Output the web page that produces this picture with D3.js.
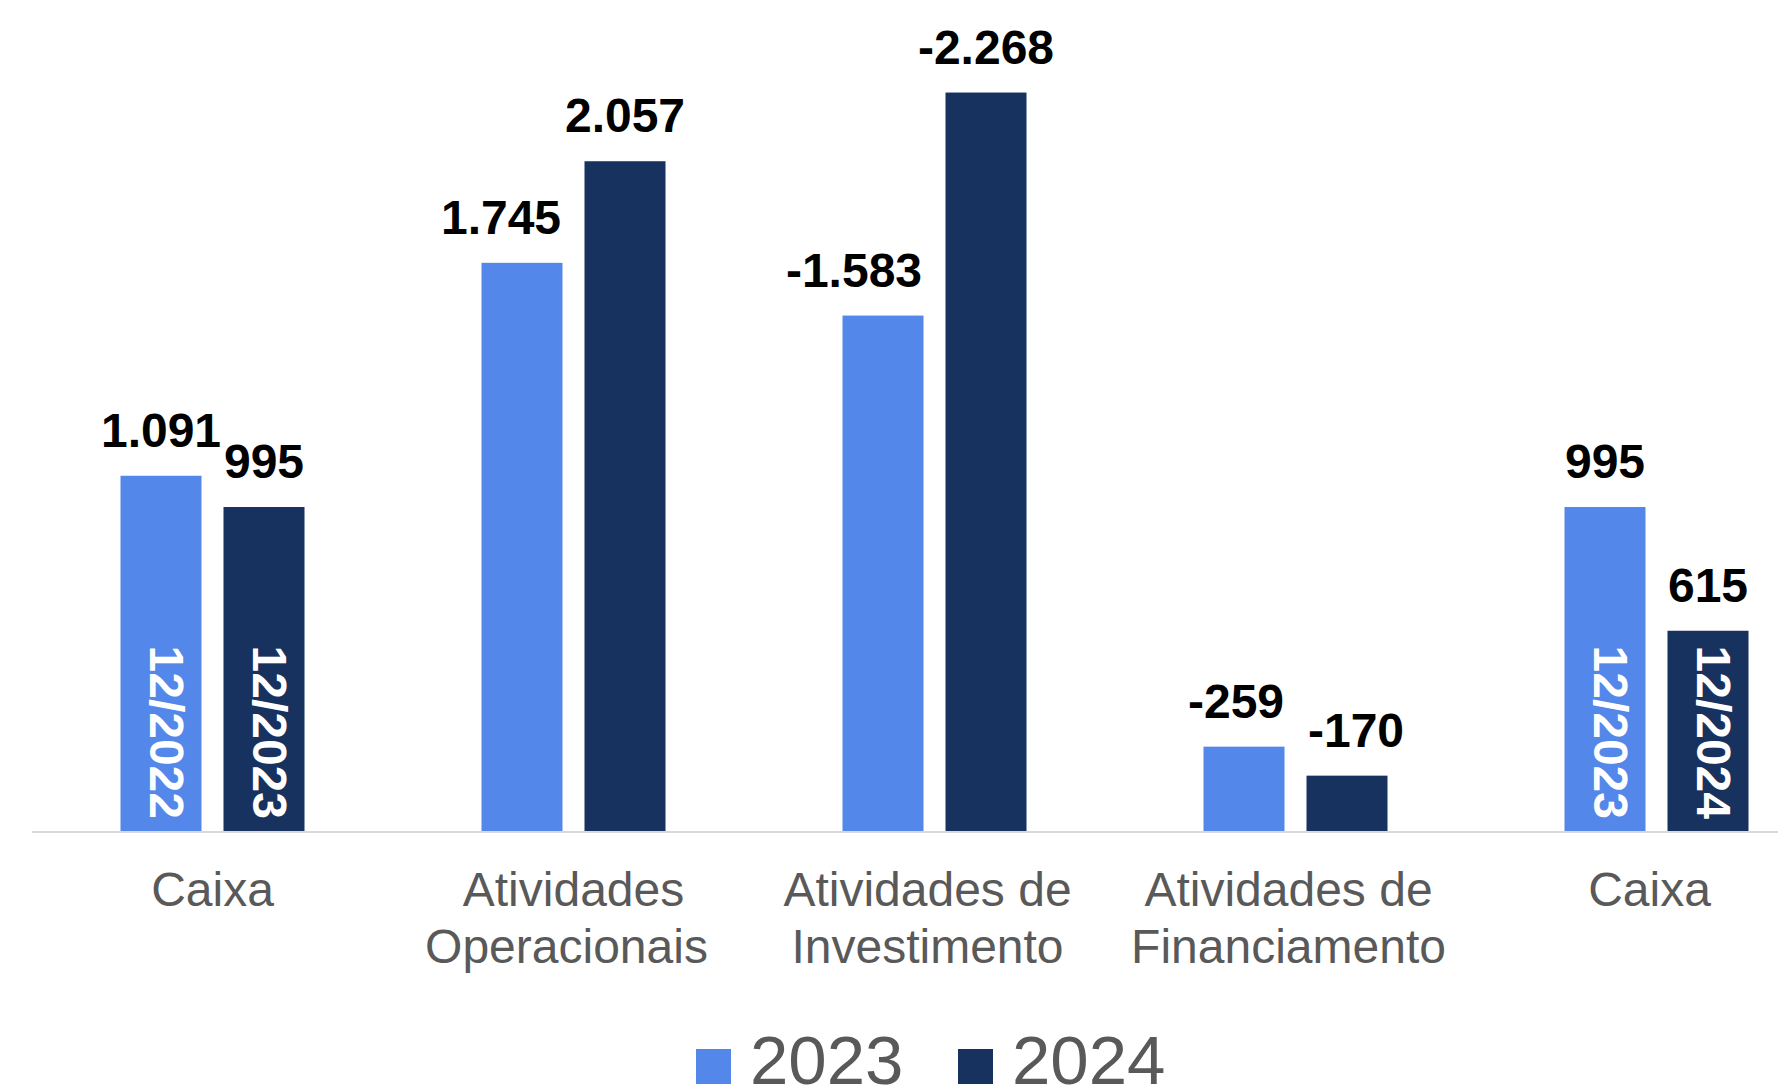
<!DOCTYPE html>
<html>
<head>
<meta charset="utf-8">
<script src="https://cdn.jsdelivr.net/npm/d3@7"></script>
<style>
  html, body { margin: 0; padding: 0; background: #fff; overflow: hidden; }
  svg { display: block; font-family: "Liberation Sans", Arial, sans-serif; }
</style>
</head>
<body>
<svg id="chart" width="1778" height="1085"></svg>
<script>
// categories (each label split into lines)
const categories = [
  ["Caixa"],
  ["Atividades", "Operacionais"],
  ["Atividades de", "Investimento"],
  ["Atividades de", "Financiamento"],
  ["Caixa"]
];
const series = ["2023", "2024"];
const values2023 = [1091, 1745, -1583, -259, 995];
const values2024 = [995, 2057, -2268, -170, 615];
// dates written inside the cash bars
const inner2023 = ["12/2022", null, null, null, "12/2023"];
const inner2024 = ["12/2023", null, null, null, "12/2024"];
const colors = { "2023": "#5387E9", "2024": "#17325E" };

// small sideways shifts so value labels do not collide (as in the original)
const nudge2023 = [0, -21, -29, -8, 0];
const nudge2024 = [0, 0, 0, 9, 0];
// trailing-space shift of the wrapped category lines
const lineShift = [[0], [0, -7], [-7, -7], [-7, -7], [-7]];

const svg = d3.select("#chart");
const fmt = d3.formatLocale({ decimal: ",", thousands: ".", grouping: [3], currency: ["R$", ""], minus: "-" }).format(",d");

const baseY = 831;
const x0 = d3.scaleBand().domain(d3.range(categories.length)).range([32, 1837]).padding(0);
const x1 = d3.scaleBand().domain(series).range([88.5, 272.5]).paddingInner(22 / 103);
const y = d3.scaleLinear().domain([0, 2500]).range([baseY, 17]);

const rows = [];
categories.forEach((c, i) => {
  rows.push({ i, s: "2023", v: values2023[i], inner: inner2023[i], dx: nudge2023[i] });
  rows.push({ i, s: "2024", v: values2024[i], inner: inner2024[i], dx: nudge2024[i] });
});

const g = svg.append("g");

// baseline
g.append("line")
  .attr("x1", 32).attr("x2", 1778)
  .attr("y1", baseY + 1).attr("y2", baseY + 1)
  .attr("stroke", "#D9D9D9").attr("stroke-width", 2);

const bx = (d) => x0(d.i) + x1(d.s);

g.selectAll(".bar")
  .data(rows)
  .enter()
  .append("rect")
  .attr("x", bx)
  .attr("y", (d) => y(Math.abs(d.v)))
  .attr("width", x1.bandwidth())
  .attr("height", (d) => baseY - y(Math.abs(d.v)))
  .attr("fill", (d) => colors[d.s]);

g.selectAll(".valueLabel")
  .data(rows)
  .enter()
  .append("text")
  .attr("x", (d) => bx(d) + x1.bandwidth() / 2 + d.dx)
  .attr("y", (d) => y(Math.abs(d.v)) - 29)
  .attr("text-anchor", "middle")
  .attr("font-size", "48px")
  .attr("font-weight", "bold")
  .attr("fill", "#000")
  .text((d) => fmt(d.v));

g.selectAll(".innerLabel")
  .data(rows.filter((d) => d.inner))
  .enter()
  .append("text")
  .attr("transform", (d) => `translate(${bx(d) + x1.bandwidth() / 2 - 11},${baseY - 12}) rotate(90)`)
  .attr("text-anchor", "end")
  .attr("font-size", "48px")
  .attr("font-weight", "bold")
  .attr("fill", "#fff")
  .text((d) => d.inner);

// category labels
const cat = g.selectAll(".categoryLabel")
  .data(categories)
  .enter()
  .append("text")
  .attr("x", (d, i) => x0(i) + x0.bandwidth() / 2)
  .attr("y", 906)
  .attr("text-anchor", "middle")
  .attr("font-size", "48px")
  .attr("fill", "#595959");

cat.selectAll("tspan")
  .data((d, i) => d.map((t, j) => ({ t, shift: lineShift[i][j], cx: x0(i) + x0.bandwidth() / 2 })))
  .enter()
  .append("tspan")
  .attr("x", (d) => d.cx + d.shift)
  .attr("dy", (d, j) => (j === 0 ? 0 : 57))
  .text((d) => d.t);

// legend
const legendX = [696, 958];
const legend = svg.selectAll(".legend")
  .data(series)
  .enter()
  .append("g")
  .attr("transform", (d, i) => `translate(${legendX[i]},0)`);

legend.append("rect")
  .attr("x", 0).attr("y", 1049)
  .attr("width", 35).attr("height", 35)
  .attr("fill", (d) => colors[d]);

legend.append("text")
  .attr("x", 54).attr("y", 1084)
  .attr("font-size", "69px")
  .attr("fill", "#595959")
  .text((d) => d);
</script>
</body>
</html>
